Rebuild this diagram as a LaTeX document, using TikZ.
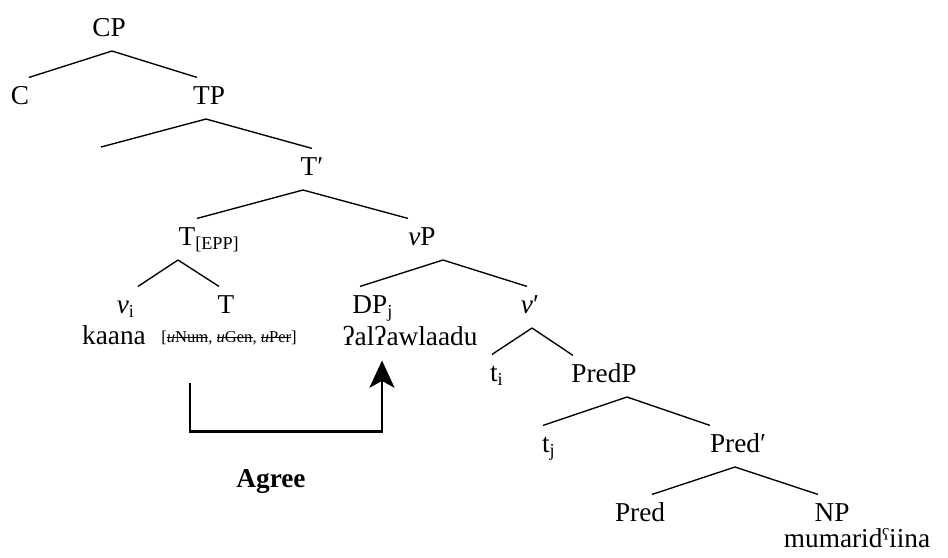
\documentclass[tikz,border=0pt]{standalone}
\usepackage{fontspec}
\setmainfont{Liberation Serif}
\usetikzlibrary{calc,arrows.meta}

\newsavebox{\strkbox}
\newcommand{\strk}[1]{\sbox{\strkbox}{#1}\rlap{\rule[0.28em]{\wd\strkbox}{0.35pt}}\usebox{\strkbox}}

\tikzset{
  cat/.style={anchor=base,inner xsep=0pt,inner ysep=3.5pt,text height=8pt,text depth=2.9pt,font=\fontsize{12}{14}\selectfont},
  lowcat/.style={cat,inner ysep=0pt,text height=11.5pt,text depth=0pt},
  leaf/.style={anchor=base,inner sep=0pt,text depth=0pt,font=\fontsize{12}{14}\selectfont},
  feat/.style={anchor=base,inner sep=0pt,text depth=0pt,font=\fontsize{7.3}{9}\selectfont},
  branch/.style={line width=0.6pt},
  agreearrow/.style={line width=1.1pt,-{Stealth[length=12pt,width=11pt,inset=3pt]}}
}

\begin{document}
\begin{tikzpicture}[x=0.44pt,y=-0.44pt]
\path[use as bounding box] (0,0) rectangle (948,557);
\node[cat] (CP) at (109,36) {CP};
\node[cat] (C) at (20,104) {C};
\node[cat] (TP) at (209,104) {TP};
\coordinate (TPspec) at (101,147);
\node[cat] (Tbar) at (312,175) {T′};
\node[cat] (Tepp) at (187,245) {T\rlap{\textsubscript{[EPP]}}};
\node[cat] (vP) at (422,245) {\textit{v}P};
\node[cat] (vi) at (126,313) {\textit{v}\textsubscript{i}};
\node[cat] (T) at (226,313) {T};
\node[cat] (DP) at (373,313) {DP\textsubscript{j}};
\node[cat] (vbar) at (530,313) {\textit{v}′};
\node[leaf] (kaana) at (114,344) {kaana};
\node[feat] (feats) at (229,342) {[\strk{\textit{u}Num}, \strk{\textit{u}Gen}, \strk{\textit{u}Per}]};
\node[leaf] (awlaadu) at (410,345) {ʔalʔawlaadu};
\node[cat] (ti) at (497,381) {t\textsubscript{i}};
\node[cat] (PredP) at (604,382) {PredP};
\node[cat] (tj) at (549,452) {t\textsubscript{j}};
\node[cat] (Predbar) at (738,452) {Pred′};
\node[cat] (Pred) at (640,521) {Pred};
\node[lowcat] (NP) at (832,521) {NP};
\node[leaf] (mumaridiina) at (857,547) {mumaridˤiina};
\node[leaf,font=\fontsize{12}{14}\selectfont\bfseries] (agree) at (271,487) {Agree};

\draw[branch] ($(CP.south)+(3,0)$) -- ($(C.north)+(9,0)$);
\draw[branch] ($(CP.south)+(3,0)$) -- ($(TP.north)+(-12,0)$);
\draw[branch] ($(TP.south)+(-3,0)$) -- (TPspec);
\draw[branch] ($(TP.south)+(-3,0)$) -- (Tbar.north);
\draw[branch] ($(Tbar.south)+(-9,0)$) -- ($(Tepp.north)+(10,0)$);
\draw[branch] ($(Tbar.south)+(-9,0)$) -- ($(vP.north)+(-14,0)$);
\draw[branch] ($(Tepp.south)+(-9,0)$) -- ($(vi.north)+(12,0)$);
\draw[branch] ($(Tepp.south)+(-9,0)$) -- ($(T.north)+(-7,0)$);
\draw[branch] ($(vP.south)+(21,0)$) -- ($(DP.north)+(-13,0)$);
\draw[branch] ($(vP.south)+(21,0)$) -- ($(vbar.north)+(-3,0)$);
\draw[branch] ($(vbar.south)+(2,0)$) -- ($(ti.north)+(-5,0)$);
\draw[branch] ($(vbar.south)+(2,0)$) -- ($(PredP.north)+(-31,0)$);
\draw[branch] ($(PredP.south)+(23,0)$) -- ($(tj.north)+(-6,0)$);
\draw[branch] ($(PredP.south)+(23,0)$) -- ($(Predbar.north)+(-28,0)$);
\draw[branch] ($(Predbar.south)+(-3,0)$) -- ($(Pred.north)+(12,0)$);
\draw[branch] ($(Predbar.south)+(-3,0)$) -- ($(NP.north)+(-14,0)$);

\draw[agreearrow] ($(feats.south)+(-39,41)$) |- ($(awlaadu.south)+(-28,86)$) -- ($(awlaadu.south)+(-28,15)$);
\end{tikzpicture}
\end{document}
